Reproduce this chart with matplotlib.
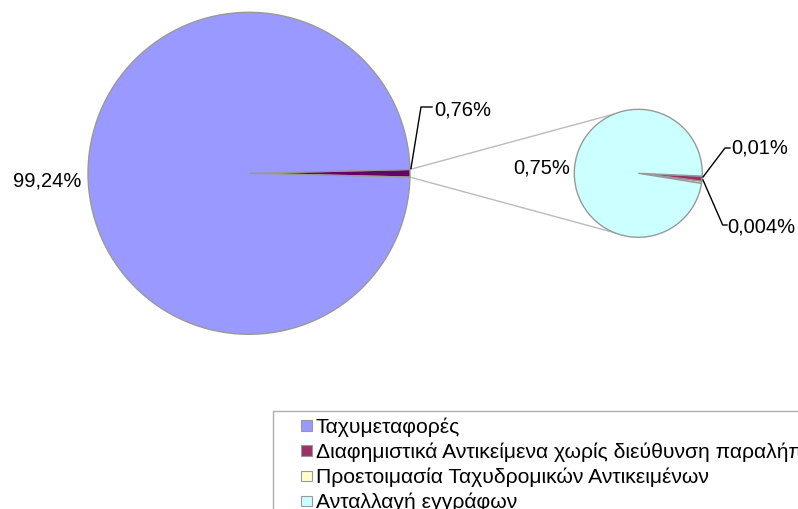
import matplotlib
matplotlib.use("Agg")
import matplotlib.pyplot as plt
from matplotlib.patches import Rectangle
from matplotlib.legend_handler import HandlerPatch
import numpy as np

plt.rcParams['font.family'] = ['Liberation Sans', 'DejaVu Sans']

# ---- data ----
categories = ["Ταχυμεταφορές",
              "Διαφημιστικά Αντικείμενα χωρίς διεύθυνση παραλήπτη",
              "Προετοιμασία Ταχυδρομικών Αντικειμένων",
              "Ανταλλαγή εγγράφων"]
main_values = [0.76, 99.24]          # other, Ταχυμεταφορές
sub_values = [0.01, 0.004, 0.75]     # Διαφημιστικά, Προετοιμασία, Ανταλλαγή
sub_labels = ["0,01%", "0,004%", "0,75%"]
main_labels = ["0,76%", "99,24%"]

legend_colors = ["#9999FF", "#993366", "#FFFFCC", "#CCFFFF"]
main_colors = ["#660066", "#9999FF"]
sub_colors = ["#993366", "#FFFFCC", "#CCFFFF"]

W, H = 798, 509
fig = plt.figure(figsize=(W / 100, H / 100), dpi=100)
ax = fig.add_axes([0, 0, 1, 1])

main_c = (249.0, 335.7)
main_r = 161.0
sub_c = (638.3, 335.7)
sub_r = 64.0

other_deg = main_values[0] / sum(main_values) * 360
wedges, _ = ax.pie(main_values, colors=main_colors, radius=main_r, center=main_c,
                   startangle=-other_deg / 2, counterclock=True,
                   wedgeprops=dict(edgecolor="#999999", linewidth=1.0))
swedges, _ = ax.pie(sub_values, colors=sub_colors, radius=sub_r, center=sub_c,
                    startangle=-2.5, counterclock=False,
                    wedgeprops=dict(edgecolor="#999999", linewidth=1.0))

ax.set_xlim(0, W)
ax.set_ylim(0, H)
ax.set_aspect("equal")
ax.axis("off")

# connector lines
a1 = np.deg2rad(other_deg / 2)
p_top = (main_c[0] + main_r * np.cos(a1), main_c[1] + main_r * np.sin(a1))
p_bot = (main_c[0] + main_r * np.cos(a1), main_c[1] - main_r * np.sin(a1))
b = np.deg2rad(112)
q_top = (sub_c[0] + sub_r * np.cos(b), sub_c[1] + sub_r * np.sin(b))
q_bot = (sub_c[0] + sub_r * np.cos(b), sub_c[1] - sub_r * np.sin(b))
ax.plot([p_top[0], q_top[0]], [p_top[1], q_top[1]], color="#BBBBBB", lw=1.0, zorder=0)
ax.plot([p_bot[0], q_bot[0]], [p_bot[1], q_bot[1]], color="#BBBBBB", lw=1.0, zorder=0)

fs = 14.5
# labels main pie
ax.text(81, 323, main_labels[1], ha="right", va="baseline", fontsize=fs)
ax.plot([p_top[0] + 1, 421, 432], [p_top[1] + 1, 402, 402], color="black", lw=1.0)
ax.text(434, 394, main_labels[0], ha="left", va="baseline", fontsize=fs)

# labels sub pie
ax.text(570, 335.7, sub_labels[2], ha="right", va="baseline", fontsize=fs)
ax.plot([703, 725, 730], [332, 361, 361], color="black", lw=1.0)
ax.text(731, 356, sub_labels[0], ha="left", va="baseline", fontsize=fs)
ax.plot([703, 722.7, 727], [329, 284, 284], color="black", lw=1.0)
ax.text(727, 277, sub_labels[1], ha="left", va="baseline", fontsize=fs)

# legend
class SquareHandler(HandlerPatch):
    def create_artists(self, legend, orig_handle, xdescent, ydescent, width, height,
                       fontsize, trans):
        s = 10.5 * 72 / 100  # points
        r = Rectangle((width - s - xdescent, (height - s) / 2 - ydescent), s, s,
                      facecolor=orig_handle.get_facecolor(), edgecolor="#999999",
                      linewidth=0.8, transform=trans)
        return [r]

handles = [Rectangle((0, 0), 1, 1, facecolor=c) for c in legend_colors]
lfs = 15.2
leg = fig.legend(handles, categories, loc="upper left",
                 bbox_to_anchor=(272.7 / W, 1 - 411 / H), borderaxespad=0,
                 fontsize=lfs, frameon=True, fancybox=False,
                 handler_map={Rectangle: SquareHandler()},
                 handlelength=1.55, handleheight=0.6, handletextpad=0.2,
                 borderpad=0.3, labelspacing=0.27)
leg.get_frame().set_edgecolor("#999999")
leg.get_frame().set_linewidth(1.0)

fig.savefig("out.png", dpi=100)
